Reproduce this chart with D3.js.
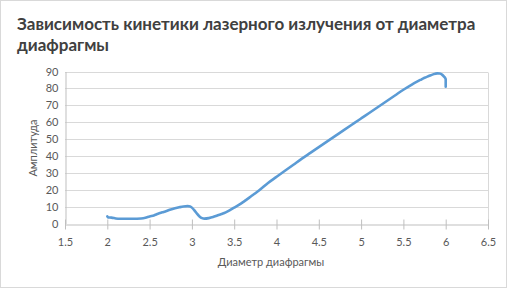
<!DOCTYPE html>
<html><head><meta charset="utf-8">
<script src="https://cdn.jsdelivr.net/npm/d3@7"></script>
<style>body{margin:0;background:#fff}svg{display:block}</style>
</head><body>
<svg id="c" width="507" height="288"></svg>
<script>
const diameters = [2.00,2.01,2.05,2.10,2.15,2.20,2.30,2.40,2.45,2.50,2.55,2.60,2.65,2.70,2.75,2.80,2.85,2.90,2.95,2.98,3.00,3.03,3.06,3.09,3.12,3.15,3.20,3.25,3.30,3.35,3.40,3.45,3.50,3.55,3.60,3.65,3.70,3.75,3.80,3.90,4.00,4.10,4.20,4.30,4.40,4.50,4.60,4.70,4.80,4.90,5.00,5.10,5.20,5.30,5.40,5.50,5.60,5.70,5.75,5.80,5.85,5.90,5.93,5.96,5.98,6.00,6.00];
const amplitudes = [4.2,3.6,3.5,3.0,2.8,2.8,2.8,3.0,3.4,4.2,4.8,5.8,6.6,7.4,8.3,9.0,9.6,10.1,10.3,10.1,9.4,7.8,5.8,4.2,3.2,2.9,3.2,3.8,4.7,5.6,6.6,7.9,9.4,10.9,12.5,14.3,16.1,17.9,19.8,24.0,27.6,31.2,34.8,38.4,41.8,45.2,48.6,52.0,55.4,58.8,62.2,65.6,69.0,72.4,75.8,79.2,82.3,85.0,86.3,87.3,88.3,88.9,88.8,88.0,87.0,85.5,81.0];
const xTicks = [1.5,2,2.5,3,3.5,4,4.5,5,5.5,6,6.5];
const yTicks = [0,10,20,30,40,50,60,70,80,90];
const title = ["Зависимость кинетики лазерного излучения от диаметра","диафрагмы"];
const xLabel = "Диаметр диафрагмы";
const yLabel = "Амплитуда";

const svg = d3.select("#c");
const font = "Lato, 'Open Sans', sans-serif";
svg.append("rect").attr("x",0.5).attr("y",0.5).attr("width",506).attr("height",287)
  .attr("fill","#fff").attr("stroke","#d9d9d9");

const x = d3.scaleLinear().domain([1.5,6.5]).range([65,488]);
const y = d3.scaleLinear().domain([0,90]).range([223.5,71.5]);

// gridlines
svg.append("g").selectAll("line").data(yTicks.filter(d=>d>0)).join("line")
  .attr("x1",x(1.5)).attr("x2",x(6.5))
  .attr("y1",d=>Math.round(y(d))+0.5).attr("y2",d=>Math.round(y(d))+0.5)
  .attr("stroke","#d9d9d9").attr("stroke-width",1);
// right border line
svg.append("line").attr("x1",Math.round(x(6.5))+0.5).attr("x2",Math.round(x(6.5))+0.5)
  .attr("y1",Math.round(y(90))+0.5).attr("y2",Math.round(y(0))+0.5).attr("stroke","#d9d9d9");

// y axis
const ya = svg.append("g").attr("transform",`translate(${Math.round(x(1.5))+0.5},0)`)
  .call(d3.axisLeft(y).tickValues(yTicks).tickSize(0).tickPadding(7).tickFormat(d3.format("d")));
ya.select(".domain").attr("stroke","#bfbfbf");
ya.selectAll("text").attr("font-family",font).attr("font-size",11).attr("fill","#595959");

// x axis
const xa = svg.append("g").attr("transform",`translate(0,${Math.round(y(0))+0.5})`)
  .call(d3.axisBottom(x).tickValues(xTicks).tickSizeInner(5).tickSizeOuter(0).tickPadding(9).tickFormat(d=>String(d)));
xa.select(".domain").attr("stroke","#bfbfbf");
xa.selectAll(".tick line").attr("stroke","#bfbfbf").attr("y1",-5).attr("y2",5);
xa.selectAll("text").attr("font-family",font).attr("font-size",11).attr("fill","#595959");

// line
const pts = diameters.map((d,i)=>[d,amplitudes[i]]);
svg.append("path").datum(pts)
  .attr("d",d3.line().x(d=>x(d[0])).y(d=>y(d[1])).curve(d3.curveMonotoneX))
  .attr("fill","none").attr("stroke","#5b9bd5").attr("stroke-width",2.6)
  .attr("stroke-linejoin","round").attr("stroke-linecap","round");

// title
svg.append("text").attr("x",17).attr("font-family",font).attr("font-weight","bold")
  .attr("font-size",17).attr("fill","#404040")
  .selectAll("tspan").data(title).join("tspan").attr("x",17).attr("y",(d,i)=>30+i*21).text(d=>d);

// axis labels
svg.append("text").attr("x",271).attr("y",266).attr("text-anchor","middle")
  .attr("font-family",font).attr("font-size",11).attr("fill","#595959").text(xLabel);
svg.append("text").attr("transform","translate(37,148) rotate(-90)").attr("text-anchor","middle")
  .attr("font-family",font).attr("font-size",11).attr("fill","#595959").text(yLabel);
</script>
</body></html>
